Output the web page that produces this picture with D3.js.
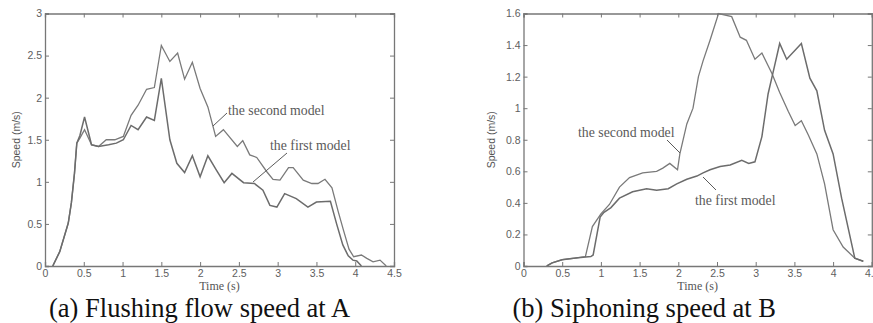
<!DOCTYPE html>
<html>
<head>
<meta charset="utf-8">
<script src="https://cdn.jsdelivr.net/npm/d3@7"></script>
<style>
  html, body { margin: 0; padding: 0; background: #fff; }
  svg { display: block; }
  .tick text { font-family: "Liberation Sans", Arial, sans-serif; font-size: 10.5px; fill: #5e5e5e; }
  .tick line { stroke: #777; }
  .domain { stroke: #777; }
</style>
</head>
<body>
<svg id="chart" width="873" height="323"></svg>
<script>
// panel (a): flushing flow speed at A
var aFirstT = [0.1, 0.19, 0.3, 0.34, 0.38, 0.41, 0.45, 0.51, 0.6, 0.69, 0.82, 0.92, 1.01, 1.11, 1.2, 1.31, 1.41, 1.5, 1.61, 1.7, 1.8, 1.9, 2.0, 2.1, 2.21, 2.31, 2.41, 2.56, 2.7, 2.81, 2.9, 2.99, 3.09, 3.24, 3.39, 3.5, 3.68, 3.76, 3.84, 3.91, 3.97, 4.02, 4.08];
var aFirstV = [0, 0.17, 0.51, 0.75, 1.1, 1.46, 1.55, 1.77, 1.44, 1.42, 1.44, 1.46, 1.5, 1.67, 1.62, 1.77, 1.73, 2.23, 1.5, 1.22, 1.11, 1.31, 1.06, 1.31, 1.14, 0.99, 1.1, 0.99, 0.98, 0.9, 0.72, 0.7, 0.86, 0.8, 0.7, 0.76, 0.77, 0.5, 0.25, 0.12, 0.07, 0.06, 0];
var aSecondT = [0.1, 0.19, 0.3, 0.34, 0.38, 0.41, 0.45, 0.51, 0.6, 0.69, 0.79, 0.9, 1.01, 1.11, 1.2, 1.31, 1.41, 1.5, 1.61, 1.71, 1.8, 1.9, 2.0, 2.1, 2.2, 2.3, 2.48, 2.55, 2.64, 2.73, 2.86, 2.94, 3.03, 3.14, 3.2, 3.33, 3.44, 3.52, 3.61, 3.7, 3.78, 3.85, 3.92, 3.98, 4.08, 4.15, 4.23, 4.32, 4.4];
var aSecondV = [0, 0.17, 0.51, 0.75, 1.1, 1.46, 1.52, 1.62, 1.44, 1.42, 1.5, 1.5, 1.54, 1.79, 1.91, 2.1, 2.12, 2.62, 2.43, 2.53, 2.22, 2.42, 2.11, 1.89, 1.54, 1.62, 1.42, 1.49, 1.32, 1.29, 1.12, 1.03, 1.02, 1.17, 1.17, 1.02, 0.98, 0.98, 1.03, 0.93, 0.65, 0.42, 0.2, 0.11, 0.13, 0.09, 0.05, 0.07, 0];

// panel (b): siphoning speed at B
var bFirstT = [0.3, 0.37, 0.5, 0.67, 0.87, 0.9, 0.99, 1.04, 1.13, 1.24, 1.41, 1.59, 1.72, 1.87, 1.98, 2.11, 2.24, 2.32, 2.41, 2.54, 2.67, 2.82, 2.91, 2.99, 3.08, 3.16, 3.24, 3.31, 3.4, 3.59, 3.7, 3.79, 3.89, 4.0, 4.11, 4.28, 4.39];
var bFirstV = [0, 0.02, 0.04, 0.05, 0.06, 0.07, 0.31, 0.34, 0.37, 0.43, 0.47, 0.49, 0.48, 0.49, 0.52, 0.55, 0.57, 0.59, 0.61, 0.63, 0.64, 0.67, 0.65, 0.66, 0.82, 1.09, 1.26, 1.41, 1.31, 1.41, 1.19, 1.11, 0.86, 0.71, 0.43, 0.05, 0.03];
var bSecondT = [0.3, 0.37, 0.5, 0.67, 0.8, 0.89, 1.0, 1.11, 1.24, 1.37, 1.54, 1.72, 1.8, 1.89, 1.99, 2.02, 2.11, 2.19, 2.26, 2.32, 2.41, 2.52, 2.69, 2.8, 2.88, 2.99, 3.08, 3.21, 3.31, 3.42, 3.51, 3.59, 3.68, 3.79, 3.89, 4.0, 4.13, 4.28, 4.39];
var bSecondV = [0, 0.02, 0.04, 0.05, 0.06, 0.25, 0.33, 0.39, 0.5, 0.56, 0.59, 0.6, 0.62, 0.65, 0.61, 0.71, 0.9, 1.0, 1.2, 1.3, 1.43, 1.6, 1.58, 1.45, 1.43, 1.31, 1.35, 1.22, 1.1, 0.98, 0.89, 0.92, 0.83, 0.71, 0.52, 0.23, 0.12, 0.05, 0.03];

var xTicks = [0, 0.5, 1, 1.5, 2, 2.5, 3, 3.5, 4, 4.5];
var aYTicks = [0, 0.5, 1, 1.5, 2, 2.5, 3];
var bYTicks = [0, 0.2, 0.4, 0.6, 0.8, 1, 1.2, 1.4, 1.6];

var LINE_COLOR = "#6c6c6c";
var NOTE_COLOR = "#5a5a5a";

var svg = d3.select("#chart");

function zip(ts, vs) {
  return ts.map(function(t, i) { return { t: t, v: vs[i] }; });
}

function drawPanel(cfg) {
  var x = d3.scaleLinear().domain([0, 4.5]).range([cfg.left, cfg.right]);
  var y = d3.scaleLinear().domain([0, cfg.yMax]).range([cfg.bottom, cfg.top]);
  var g = svg.append("g");

  // inward ticks on all four sides, matlab style
  g.append("g").attr("transform", "translate(0," + cfg.bottom + ")")
    .call(d3.axisBottom(x).tickValues(xTicks).tickSize(-4).tickPadding(4)
      .tickFormat(function(d) { return String(d); }));
  g.append("g").attr("transform", "translate(0," + cfg.top + ")")
    .call(d3.axisTop(x).tickValues(xTicks).tickSize(-4).tickFormat(""));
  g.append("g").attr("transform", "translate(" + cfg.left + ",0)")
    .call(d3.axisLeft(y).tickValues(cfg.yTicks).tickSize(-4).tickPadding(3)
      .tickFormat(function(d) { return String(+d.toFixed(1)); }));
  g.append("g").attr("transform", "translate(" + cfg.right + ",0)")
    .call(d3.axisRight(y).tickValues(cfg.yTicks).tickSize(-4).tickFormat(""));
  g.selectAll(".domain").attr("stroke-width", 1.3);

  g.append("text")
    .attr("x", (cfg.left + cfg.right) / 2).attr("y", 289.5)
    .attr("text-anchor", "middle")
    .attr("font-family", "Liberation Serif, Times New Roman, serif")
    .attr("font-size", "12px").attr("fill", "#555")
    .text("Time (s)");
  g.append("text")
    .attr("transform", "translate(" + cfg.yLabelX + "," + (cfg.top + cfg.bottom) / 2 + ") rotate(-90)")
    .attr("text-anchor", "middle")
    .attr("font-family", "Liberation Sans, Arial, sans-serif")
    .attr("font-size", "10.5px").attr("fill", "#555")
    .text("Speed (m/s)");

  var line = d3.line()
    .x(function(d) { return x(d.t); })
    .y(function(d) { return y(d.v); });
  var clipId = "clip-" + cfg.key;
  g.append("clipPath").attr("id", clipId).append("rect")
    .attr("x", cfg.left).attr("y", cfg.top - 1)
    .attr("width", cfg.right - cfg.left).attr("height", cfg.bottom - cfg.top + 1);
  g.append("path").datum(zip(cfg.secondT, cfg.secondV))
    .attr("clip-path", "url(#" + clipId + ")")
    .attr("d", line).attr("fill", "none")
    .attr("stroke", "#7a7a7a").attr("stroke-width", 1.3);
  g.append("path").datum(zip(cfg.firstT, cfg.firstV))
    .attr("clip-path", "url(#" + clipId + ")")
    .attr("d", line).attr("fill", "none")
    .attr("stroke", LINE_COLOR).attr("stroke-width", 1.5);

  cfg.notes.forEach(function(n) {
    g.append("line")
      .attr("x1", n.lx1).attr("y1", n.ly1).attr("x2", n.lx2).attr("y2", n.ly2)
      .attr("stroke", NOTE_COLOR).attr("stroke-width", 1);
    g.append("text")
      .attr("x", n.x).attr("y", n.y)
      .attr("font-family", "Liberation Serif, Times New Roman, serif")
      .attr("font-size", "13.8px").attr("fill", NOTE_COLOR)
      .text(n.text);
  });

  svg.append("text")
    .attr("x", cfg.captionX).attr("y", 317)
    .attr("font-family", "Liberation Serif, Times New Roman, serif")
    .attr("font-size", "26.5px").attr("fill", "#111")
    .text(cfg.caption);
}

drawPanel({
  key: "a", left: 45, right: 394, top: 13.5, bottom: 266, yMax: 3, yTicks: aYTicks, yLabelX: 19.5,
  firstT: aFirstT, firstV: aFirstV, secondT: aSecondT, secondV: aSecondV,
  caption: "(a) Flushing flow speed at A", captionX: 49,
  notes: [
    { text: "the second model", x: 228, y: 115, lx1: 227, ly1: 113, lx2: 213, ly2: 126 },
    { text: "the first model", x: 270, y: 150, lx1: 287, ly1: 153, lx2: 253, ly2: 182 }
  ]
});

drawPanel({
  key: "b", left: 523.5, right: 871.8, top: 13.5, bottom: 266, yMax: 1.6, yTicks: bYTicks, yLabelX: 495,
  firstT: bFirstT, firstV: bFirstV, secondT: bSecondT, secondV: bSecondV,
  caption: "(b) Siphoning speed at B", captionX: 512.5,
  notes: [
    { text: "the second model", x: 578, y: 136.5, lx1: 667, ly1: 140, lx2: 680, ly2: 153 },
    { text: "the first model", x: 695, y: 205, lx1: 703, ly1: 177, lx2: 716, ly2: 190 }
  ]
});
</script>
</body>
</html>
